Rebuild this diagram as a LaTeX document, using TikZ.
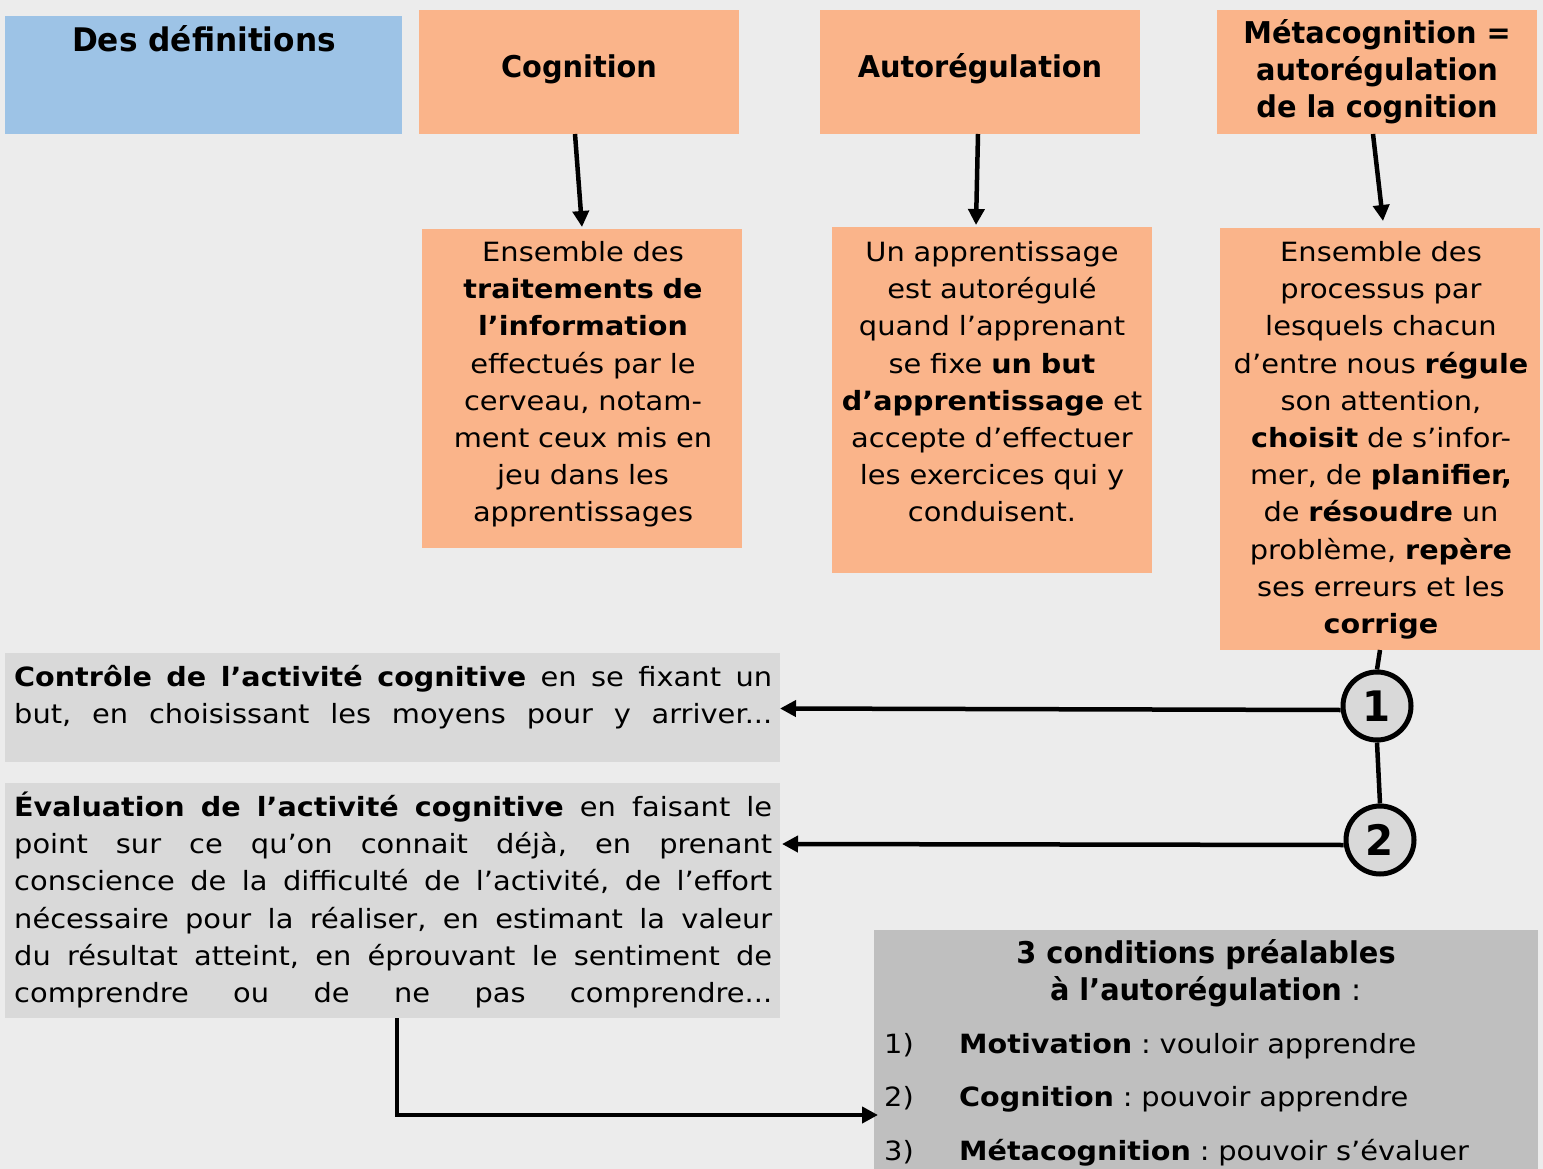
\documentclass[tikz,border=0pt]{standalone}
\usepackage{fontspec}
\setmainfont{DejaVu Sans}[FakeStretch=1.09,BoldFeatures={FakeStretch=1.08}]
\newfontfamily\ttlfont{DejaVu Sans}[BoldFeatures={FakeStretch=0.96}]
\usetikzlibrary{arrows.meta}
\definecolor{bgc}{HTML}{ECECEC}
\definecolor{bluec}{HTML}{9DC3E6}
\definecolor{orangec}{HTML}{FAB48A}
\definecolor{grayc}{HTML}{D9D9D9}
\definecolor{darkgrayc}{HTML}{BFBFBF}
\frenchspacing
\newcommand\jl[1]{\leavevmode\strut\hbox to 758pt{\frenchspacing\spaceskip=0.3em plus 1fil\xspaceskip=0.3em plus 1fil\relax #1}}
\begin{document}
\begin{tikzpicture}[x=1pt,y=-1pt,
  box/.style={draw=none,inner sep=0pt,outer sep=0pt},
  ttl/.style={font=\fontsize{30}{37}\selectfont\ttlfont\bfseries,inner sep=0pt,anchor=north,align=center,text width=320pt},
  body/.style={font=\fontsize{26.5}{37.2}\selectfont,inner sep=0pt,anchor=north,align=center,text width=340pt},
  jbody/.style={font=\fontsize{26.5}{37.3}\selectfont,inner sep=0pt,anchor=north west,align=left,text width=760pt},
  arr/.style={line width=4.5pt,-{Triangle[length=16pt,width=16pt]}},
  lnk/.style={line width=4.5pt},
  num/.style={circle,draw=black,line width=5pt,fill=grayc,minimum size=68pt,inner sep=0pt,font=\fontsize{42}{42}\selectfont\ttlfont\bfseries}
]
\fill[bgc] (0,0) rectangle (1543,1169);
\useasboundingbox (0,0) rectangle (1543,1169);

% title boxes
\node[box,fill=bluec,minimum width=397pt,minimum height=118pt] (def) at (203.5,75) {};
\node[box,fill=orangec,minimum width=320pt,minimum height=124pt] (cog) at (579,72) {};
\node[box,fill=orangec,minimum width=320pt,minimum height=124pt] (aut) at (980,72) {};
\node[box,fill=orangec,minimum width=320pt,minimum height=124pt] (meta) at (1377,72) {};

\node[ttl,text width=390pt,font=\fontsize{32.5}{37}\selectfont\ttlfont\bfseries] (tdef) at (204,25.1) {\strut Des définitions};
\node[ttl] (tcog) at (579,51.1) {\strut Cognition};
\node[ttl] (taut) at (980,51.1) {\strut Autorégulation};
\node[ttl] (tmeta) at (1377,17.1) {\strut Métacognition =\\autorégulation\\de la cognition};

% definition boxes
\node[box,fill=orangec,minimum width=320pt,minimum height=319pt] (d1) at (582,388.5) {};
\node[box,fill=orangec,minimum width=320pt,minimum height=346pt] (d2) at (992,400) {};
\node[box,fill=orangec,minimum width=320pt,minimum height=422pt] (d3) at (1380,439) {};

\node[body] (t1) at (583,235.2) {\strut Ensemble des\\\textbf{traitements de}\\\textbf{l’information}\\effectués par le\\cerveau, notam-\\ment ceux mis en\\jeu dans les\\apprentissages};
\node[body] (t2) at (992,235.2) {\strut Un apprentissage\\est autorégulé\\quand l’apprenant\\se fixe \textbf{un but}\\\textbf{d’apprentissage} et\\accepte d’effectuer\\les exercices qui y\\conduisent.};
\node[body] (t3) at (1381,235.2) {\strut Ensemble des\\processus par\\lesquels chacun\\d’entre nous \textbf{régule}\\son attention,\\\textbf{choisit} de s’infor-\\mer, de \textbf{planifier,}\\de \textbf{résoudre} un\\problème, \textbf{repère}\\ses erreurs et les\\\textbf{corrige}};

% arrows from titles
\draw[arr] ([xshift=-4pt]cog.south) -- ([yshift=2pt]d1.north);
\draw[arr] ([xshift=-2pt]aut.south) -- ([xshift=-4pt,yshift=2pt]aut.south |- d2.north);
\draw[arr] ([xshift=-4pt]meta.south) -- ([xshift=3pt,yshift=7pt]d3.north);

% lower left boxes
\node[box,fill=grayc,minimum width=775pt,minimum height=109pt] (ctrl) at (392.5,707.5) {};
\node[box,fill=grayc,minimum width=775pt,minimum height=235pt] (eval) at (392.5,900.5) {};
\node[jbody] (tctrl) at (14,659.9) {\jl{\textbf{Contrôle de l’activité cognitive} en se fixant un}\\\jl{but, en choisissant les moyens pour y arriver...}};
\node[jbody] (teval) at (14,789.9) {\jl{\textbf{Évaluation de l’activité cognitive} en faisant le}\\\jl{point sur ce qu’on connait déjà, en prenant}\\\jl{conscience de la difficulté de l’activité, de l’effort}\\\jl{nécessaire pour la réaliser, en estimant la valeur}\\\jl{du résultat atteint, en éprouvant le sentiment de}\\\jl{comprendre ou de ne pas comprendre...}};

% circles
\node[num] (c1) at (1377,706) {1};
\node[num] (c2) at (1380,840) {2};
\draw[lnk] (d3.south) -- (c1.north);
\draw[lnk] (c1.south) -- (c2.north);
\draw[arr] ([yshift=-4pt]c1.west) -- ([yshift=-1pt]ctrl.east);
\draw[arr] ([yshift=-5pt]c2.west) -- ([xshift=2pt,yshift=-4pt]eval.east |- c2.west);

% conditions box
\node[box,fill=darkgrayc,minimum width=664pt,minimum height=239pt] (cond) at (1206,1049.5) {};
\node[ttl,text width=600pt] (tcond) at (1206,937.5) {\strut 3 conditions préalables\\à l’autorégulation\mdseries\ :};
\node[inner sep=0pt,anchor=north west,font=\fontsize{26.5}{53.5}\selectfont,align=left,text width=650pt] (items) at (884,1015.5) {\strut\makebox[75pt][l]{1)}\textbf{Motivation} : vouloir apprendre\\\makebox[75pt][l]{2)}\textbf{Cognition} : pouvoir apprendre\\\makebox[75pt][l]{3)}\textbf{Métacognition} : pouvoir s’évaluer};

\coordinate (elbow) at (397,1115);
\draw[arr] ([xshift=4.5pt]eval.south) |- ([xshift=4pt]cond.west |- elbow);
\end{tikzpicture}
\end{document}
